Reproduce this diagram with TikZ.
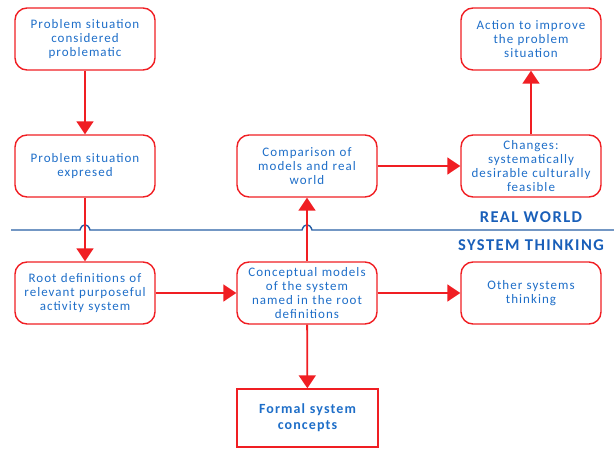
\documentclass[tikz,border=0pt]{standalone}
\usepackage{fontspec}
\setmainfont{Carlito}
\newfontfamily\boxfont[LetterSpace=8]{Carlito}
\newfontfamily\lblfont[LetterSpace=9]{Carlito}
\usetikzlibrary{arrows.meta}
\definecolor{boxred}{RGB}{240,30,35}
\definecolor{txtblue}{RGB}{30,110,200}
\definecolor{lineblue}{RGB}{40,95,165}
\definecolor{lblblue}{RGB}{25,95,185}
\tikzset{
  box/.style={draw=boxred, line width=1.4pt, rounded corners=12pt, minimum width=140pt, minimum height=62pt,
    text width=138pt, align=center, text=txtblue, font=\boxfont\fontsize{13}{14}\selectfont, inner sep=1pt},
  sqbox/.style={draw=boxred, line width=1.4pt, minimum width=141pt, minimum height=58pt,
    text width=138pt, align=center, text=txtblue, font=\boxfont\fontsize{14}{16}\selectfont\bfseries, inner sep=1pt},
  conn/.style={draw=boxred, line width=1.8pt, -{Triangle[width=17pt,length=13pt]}},
  lbl/.style={text=lblblue, font=\lblfont\fontsize{16.5}{18}\selectfont\bfseries, inner sep=0pt}
}
\begin{document}
\begin{tikzpicture}[x=1pt,y=-1pt]
\useasboundingbox (0,0) rectangle (614,450);
\node[box] (n1) at (85,39) {Problem situation\\considered\\problematic};
\node[box] (n2) at (85,166) {Problem situation\\expresed};
\node[box] (n3) at (307,166) {Comparison of\\models and real\\world};
\node[box] (n4) at (531,166) {Changes:\\systematically\\desirable culturally\\feasible};
\node[box] (n5) at (531,39) {Action to improve\\the problem\\situation};
\node[box] (n6) at (85,293) {Root definitions of\\relevant purposeful\\activity system};
\node[box] (n7) at (307,293) {Conceptual models\\of the system\\named in the root\\definitions};
\node[box] (n8) at (531,293) {Other systems\\thinking};
\node[sqbox] (n9) at (307.5,418) {Formal system\\concepts};
\node[lbl] (rw) at (531,217) {REAL WORLD};
\node[lbl] (st) at (531,245) {SYSTEM THINKING};
\coordinate (la) at (11,230);
\coordinate (lb) at (614,230);
\draw[lineblue, line width=1.4pt] (la) -- (80,230) .. controls (82,223) and (88,223) .. (90,230)
  -- (302,230) .. controls (304,223) and (310,223) .. (312,230) -- (lb);
\draw[conn] (n1) -- (n2);
\draw[conn] (n2) -- (n6);
\draw[conn] (n6) -- (n7);
\draw[conn] (n7) -- (n3);
\draw[conn] (n3) -- (n4);
\draw[conn] (n4) -- (n5);
\draw[conn] (n7) -- (n8);
\draw[conn] (n7) -- (n9);
\end{tikzpicture}
\end{document}
